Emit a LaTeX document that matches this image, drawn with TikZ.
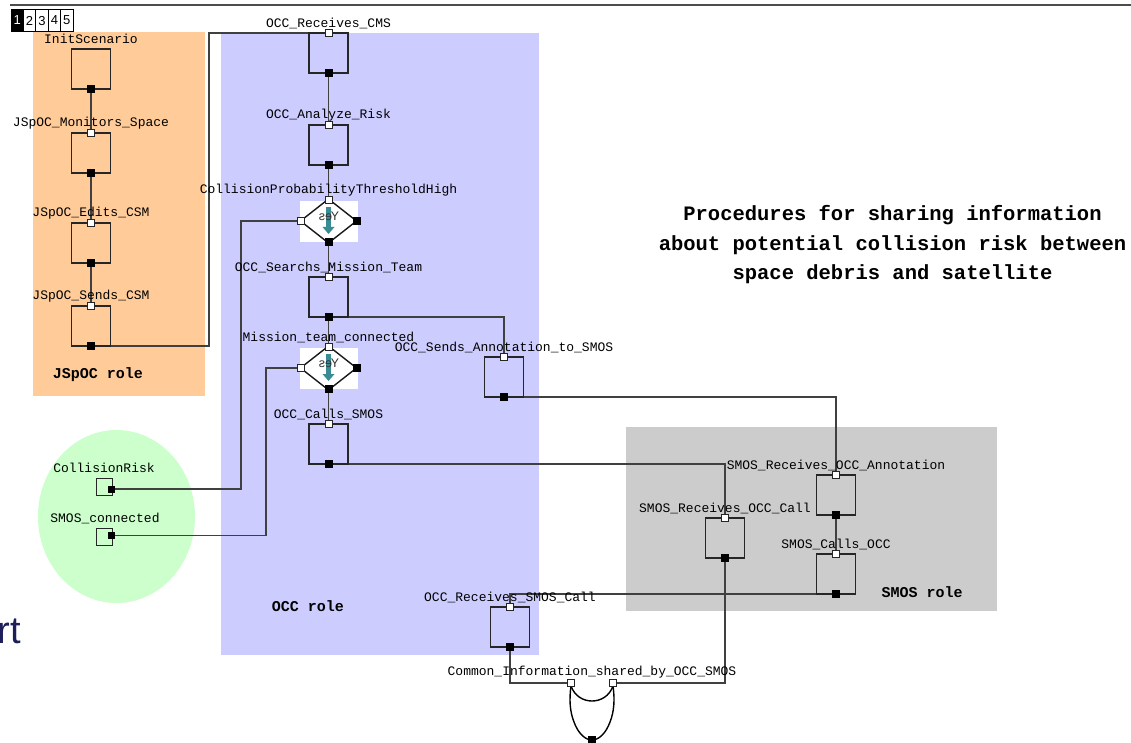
\documentclass[tikz,border=0pt]{standalone}
\usepackage{fontspec}
\setmainfont{Liberation Sans}
\newfontfamily\monof{Liberation Mono}
\definecolor{jsp}{HTML}{FFCC99}
\definecolor{occ}{HTML}{CCCCFF}
\definecolor{cond}{HTML}{CCFFCC}
\definecolor{smos}{HTML}{CCCCCC}
\definecolor{wire}{HTML}{404040}
\definecolor{tealar}{HTML}{3A8C94}
\definecolor{navy}{HTML}{1E1E5A}
\pgfdeclarelayer{bg}
\pgfdeclarelayer{wires}
\pgfsetlayers{bg,wires,main}
\tikzset{
  abox/.style={draw=black!85, line width=1.1pt, minimum width=39pt, minimum height=40pt, inner sep=0pt},
  inport/.style={draw=black!85, fill=white, line width=0.8pt, minimum size=7pt, inner sep=0pt},
  outport/.style={fill=black, minimum size=8pt, inner sep=0pt},
  conn/.style={draw=wire, line width=1.2pt},
  lbl/.style={font=\monof\fontsize{13}{15}\selectfont, inner sep=0pt},
  role/.style={font=\monof\bfseries\fontsize{15}{17}\selectfont, inner sep=0pt},
  condbox/.style={draw=black!85, line width=1pt, minimum width=16pt, minimum height=17pt, inner sep=0pt},
  tabbox/.style={draw=black, line width=0.8pt, minimum width=12.4pt, minimum height=22pt, inner sep=0pt, font=\fontsize{13}{13}\selectfont, text depth=-3pt},
}
\newcommand{\act}[5]{% name, cx, top, label, has inport
  \node[abox] (#1) at (#2,#3+20) {};
  \node[lbl] (#1-lbl) at (#2,#3-10) {#4};
  \node[outport] (#1-out) at (#2,#3+40) {};
  \ifnum#5=1 \node[inport] (#1-in) at (#2,#3) {};\fi
}
\newcommand{\decide}[4]{% name, cx, cy, label
  \fill[white] (#2-29,#3-20) rectangle (#2+29,#3+21);
  \draw[line width=1.4pt, black!90] (#2,#3-22) -- (#2+28,#3) -- (#2,#3+22) -- (#2-28,#3) -- cycle;
  \fill[tealar] (#2-2.5,#3-14) rectangle (#2+2.5,#3+6);
  \fill[tealar] (#2-6,#3+6) -- (#2+6,#3+6) -- (#2,#3+13) -- cycle;
  \node[font=\fontsize{12.5}{12.5}\selectfont, text=black!80, xscale=-1, inner sep=0pt] at (#2+0.5,#3-5) {Yes};
  \node[inport] (#1-t) at (#2,#3-21) {};
  \node[inport] (#1-l) at (#2-28,#3) {};
  \node[outport] (#1-r) at (#2+28,#3) {};
  \node[outport] (#1-b) at (#2,#3+21) {};
  \node[lbl] (#1-lbl) at (#2,#3-31) {#4};
}
\begin{document}
\begin{tikzpicture}[x=1pt,y=-1pt]
\useasboundingbox (0,0) rectangle (1131,743);
% backgrounds
\begin{pgfonlayer}{bg}
  \fill[white] (0,0) rectangle (1131,743);
  \fill[jsp] (33,32) rectangle (205,396);
  \fill[occ] (221,33) rectangle (539,655);
  \fill[cond] (116.5,516.5) ellipse [x radius=78.5, y radius=86.5];
  \fill[smos] (626,427) rectangle (997,611);
  \draw[black!70, line width=1.5pt] (10,5) -- (1131,5);
\end{pgfonlayer}
% tabs
\node[tabbox, fill=black, text=white] (tab1) at (17.2,20.5) {1};
\node[tabbox] (tab2) at (29.6,20.5) {2};
\node[tabbox] (tab3) at (42.0,20.5) {3};
\node[tabbox] (tab4) at (54.4,20.5) {4};
\node[tabbox] (tab5) at (66.8,20.5) {5};
% JSpOC role
\act{init}{91}{49}{InitScenario}{0}
\act{mon}{91}{133}{JSpOC\_Monitors\_Space}{1}
\act{edit}{91}{223}{JSpOC\_Edits\_CSM}{1}
\act{send}{91}{306}{JSpOC\_Sends\_CSM}{1}
\node[role] (jrole) at (98,375) {JSpOC role};
% OCC role
\act{rcms}{328.5}{33}{OCC\_Receives\_CMS}{1}
\act{anal}{328.5}{125}{OCC\_Analyze\_Risk}{1}
\decide{dA}{328.5}{221}{CollisionProbabilityThresholdHigh}
\act{srch}{328.5}{277}{OCC\_Searchs\_Mission\_Team}{1}
\decide{dB}{328.5}{368}{Mission\_team\_connected}
\act{calls}{328.5}{424}{OCC\_Calls\_SMOS}{1}
\act{annot}{504}{357}{OCC\_Sends\_Annotation\_to\_SMOS}{1}
\act{orec}{510}{607}{OCC\_Receives\_SMOS\_Call}{1}
\node[role] (orole) at (308,606) {OCC role};
% SMOS role
\act{sann}{836}{475}{SMOS\_Receives\_OCC\_Annotation}{1}
\act{scall}{836}{554}{SMOS\_Calls\_OCC}{1}
\act{srec}{725}{518}{SMOS\_Receives\_OCC\_Call}{1}
\node[role] (srole) at (922,592) {SMOS role};
% conditions
\node[lbl] (crl) at (104,468) {CollisionRisk};
\node[condbox] (cr) at (104,486.5) {};
\node[outport, minimum size=7pt] (cr-out) at (111.5,489) {};
\node[lbl] (scl) at (105,518) {SMOS\_connected};
\node[condbox] (sc) at (104,536.5) {};
\node[outport, minimum size=7pt] (sc-out) at (111.5,535.5) {};
% join
\node[lbl] (jl) at (592,672) {Common\_Information\_shared\_by\_OCC\_SMOS};
\draw[black, line width=1.4pt] (571,686) .. controls (569,700) and (570,712) .. (574,722) .. controls (578,733) and (585,740) .. (592,740) .. controls (599,740) and (606,733) .. (610,722) .. controls (614,712) and (615,700) .. (613,686);
\draw[black, line width=1.4pt] (571,686) .. controls (578,706) and (606,706) .. (613,686);
\node[inport] (j-l) at (571,683) {};
\node[inport] (j-r) at (613,683) {};
\node[outport] (j-b) at (592,740) {};
% title and fragment
\node[font=\monof\bfseries\fontsize{20.5}{29.5}\selectfont, align=center, inner sep=0pt] (title) at (892.5,245) {Procedures for sharing information\\about potential collision risk between\\space debris and satellite};
\node[font=\fontsize{38}{38}\selectfont, text=navy, anchor=base east, inner sep=0pt] (frag) at (21,643) {rt};
% connectors
\coordinate (k1) at (209,33);
\coordinate (k2) at (241,221);
\coordinate (k3) at (266,368);
\begin{pgfonlayer}{wires}
  \draw[conn] (init-out.center) -- (mon-in.center);
  \draw[conn] (mon-out.center) -- (edit-in.center);
  \draw[conn] (edit-out.center) -- (send-in.center);
  \draw[conn] (send-out.center) -| (k1) -- (rcms-in.center);
  \draw[conn] (rcms-out.center) -- (anal-in.center);
  \draw[conn] (anal-out.center) -- (dA-t.center);
  \draw[conn] (dA-b.center) -- (srch-in.center);
  \draw[conn] (srch-out.center) -- (dB-t.center);
  \draw[conn] (srch-out.center) -| (annot-in.center);
  \draw[conn] (dB-b.center) -- (calls-in.center);
  \draw[conn] (cr-out.center) -| (k2) -- (dA-l.center);
  \draw[conn] (sc-out.center) -| (k3) -- (dB-l.center);
  \draw[conn] (calls-out.center) -| (srec-in.center);
  \draw[conn] (annot-out.center) -| (sann-in.center);
  \draw[conn] (sann-out.center) -- (scall-in.center);
  \draw[conn] (scall-out.center) -| (orec-in.center);
  \draw[conn] (orec-out.center) |- (j-l.center);
  \draw[conn] (j-r.center) -| (srec-out.center);
\end{pgfonlayer}
\end{tikzpicture}
\end{document}
